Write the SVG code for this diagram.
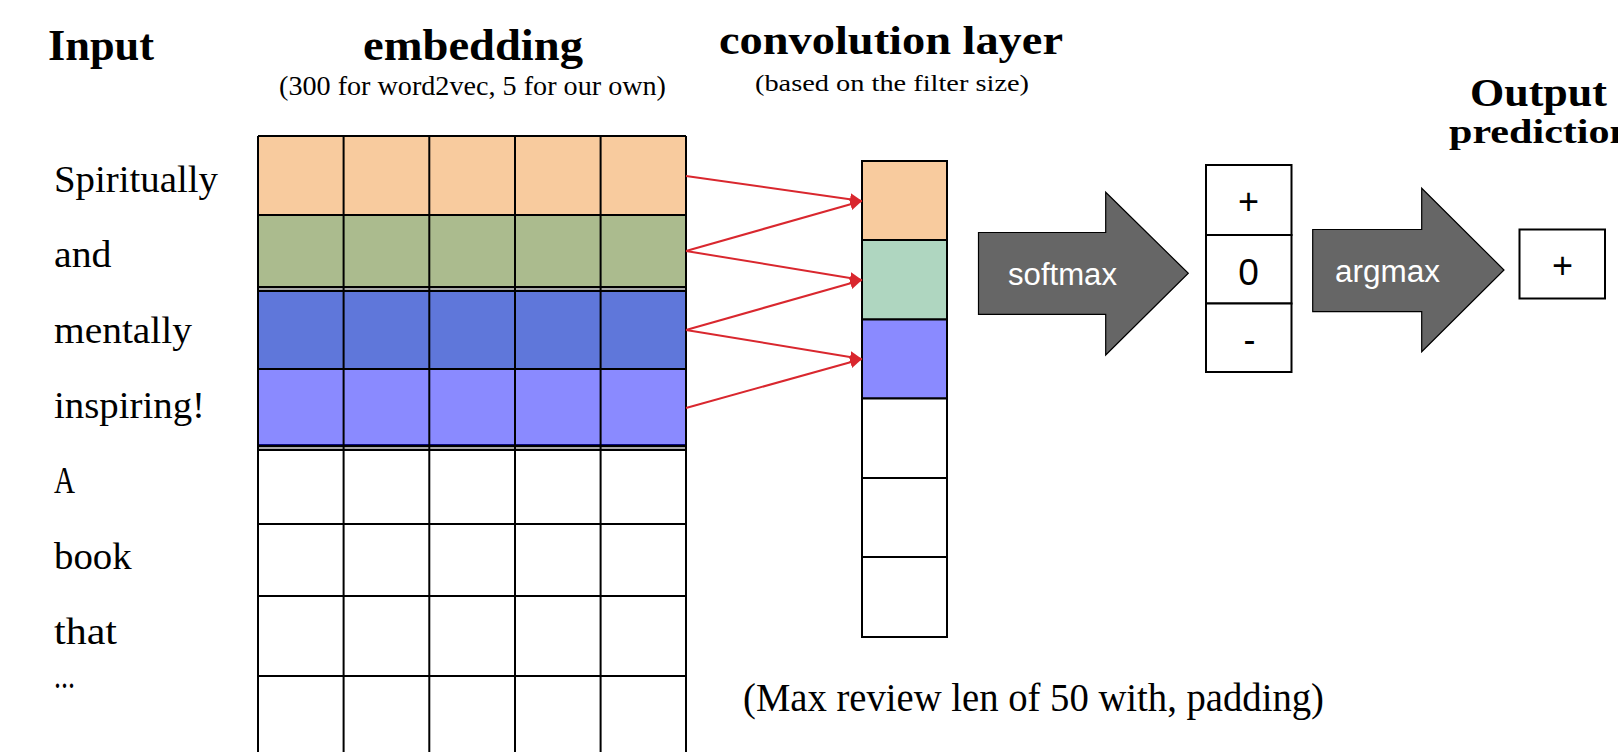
<svg xmlns="http://www.w3.org/2000/svg" width="1618" height="752" viewBox="0 0 1618 752">
<style>
.h{font-family:"Liberation Serif",serif;font-weight:bold;fill:#000}
.s{font-family:"Liberation Serif",serif;fill:#000}
.w{font-family:"Liberation Serif",serif;fill:#000;font-size:38px}
.a{font-family:"Liberation Sans",Arial,sans-serif;fill:#000}
.cell{stroke:#000;stroke-width:2}
.big{fill:#666;stroke:#000;stroke-width:1.2}
.conn{stroke:#d9272e;stroke-width:2;fill:none}
</style>
<defs>
<marker id="ah" viewBox="0 0 12 12" refX="12" refY="6" markerWidth="12" markerHeight="12" markerUnits="userSpaceOnUse" orient="auto">
<path d="M0,0 L12,6 L0,12 z" fill="#d9272e"/>
</marker>
</defs>
<rect width="1618" height="752" fill="#fff"/>

<g id="headings">
<text class="h" x="48" y="60" font-size="44" textLength="106" lengthAdjust="spacingAndGlyphs">Input</text>
<text class="h" x="363" y="60" font-size="44" textLength="220" lengthAdjust="spacingAndGlyphs">embedding</text>
<text class="s" x="279" y="95" font-size="27" textLength="387" lengthAdjust="spacingAndGlyphs">(300 for word2vec, 5 for our own)</text>
<text class="h" x="719" y="54" font-size="40" textLength="344" lengthAdjust="spacingAndGlyphs">convolution layer</text>
<text class="s" x="755" y="91" font-size="24" textLength="274" lengthAdjust="spacingAndGlyphs">(based on the filter size)</text>
<text class="h" x="1470" y="106" font-size="40" textLength="137" lengthAdjust="spacingAndGlyphs">Output</text>
<text class="h" x="1449" y="143" font-size="34" textLength="184" lengthAdjust="spacingAndGlyphs">prediction</text>
<text class="s" x="743" y="711" font-size="40" textLength="581" lengthAdjust="spacingAndGlyphs">(Max review len of 50 with, padding)</text>
</g>

<g id="input-words">
<text class="w" x="54" y="192" textLength="164" lengthAdjust="spacingAndGlyphs">Spiritually</text>
<text class="w" x="54" y="266.5" textLength="57.5" lengthAdjust="spacingAndGlyphs">and</text>
<text class="w" x="54" y="343" textLength="138" lengthAdjust="spacingAndGlyphs">mentally</text>
<text class="w" x="54" y="418" textLength="151" lengthAdjust="spacingAndGlyphs">inspiring!</text>
<text class="w" x="54" y="493" textLength="21" lengthAdjust="spacingAndGlyphs">A</text>
<text class="w" x="54" y="568.5" textLength="77.7" lengthAdjust="spacingAndGlyphs">book</text>
<text class="w" x="54" y="644" textLength="63" lengthAdjust="spacingAndGlyphs">that</text>
<text class="w" x="54" y="688" textLength="21" lengthAdjust="spacingAndGlyphs">...</text>
</g>

<g id="embedding-grid">
<rect x="258" y="136" width="428" height="79" fill="#f8cb9e"/>
<rect x="258" y="215" width="428" height="72" fill="#abbb8e"/>
<rect x="258" y="287" width="428" height="4" fill="#a8a8a8"/>
<rect x="258" y="291" width="428" height="77" fill="#5f77da"/>
<rect x="258" y="368" width="428" height="2" fill="#1a2a9a"/>
<rect x="258" y="370" width="428" height="75" fill="#8a8aff"/>
<rect x="258" y="444" width="428" height="2" fill="#0a0a80"/>
<rect x="258" y="446" width="428" height="4" fill="#a8a8a8"/>
<g class="cell" fill="none">
<path d="M258,136 H686 M258,215 H686 M258,287 H686 M258,291 H686 M258,369 H686 M258,446 H686 M258,450 H686 M258,524 H686 M258,596 H686 M258,676 H686"/>
<path d="M258,136 V752 M343.6,136 V752 M429.3,136 V752 M515,136 V752 M600.6,136 V752 M686,136 V752"/>
</g>
</g>

<g id="conv-layer">
<rect class="cell" x="862" y="161" width="85" height="79" fill="#f8cb9e"/>
<rect class="cell" x="862" y="240" width="85" height="79.5" fill="#afd6c0"/>
<rect class="cell" x="862" y="319.5" width="85" height="79" fill="#8a8aff"/>
<rect class="cell" x="862" y="398.5" width="85" height="79.5" fill="#fff"/>
<rect class="cell" x="862" y="478" width="85" height="79" fill="#fff"/>
<rect class="cell" x="862" y="557" width="85" height="80" fill="#fff"/>
</g>

<g id="connectors">
<line class="conn" x1="686" y1="176" x2="862" y2="201" marker-end="url(#ah)"/>
<line class="conn" x1="686" y1="251" x2="862" y2="201" marker-end="url(#ah)"/>
<line class="conn" x1="686" y1="251" x2="862" y2="280" marker-end="url(#ah)"/>
<line class="conn" x1="686" y1="330" x2="862" y2="280" marker-end="url(#ah)"/>
<line class="conn" x1="686" y1="330" x2="862" y2="359" marker-end="url(#ah)"/>
<line class="conn" x1="686" y1="408" x2="862" y2="359" marker-end="url(#ah)"/>
</g>

<g id="softmax-arrow">
<path class="big" d="M978.5,232.5 H1105.7 V192.3 L1188.3,273.3 L1105.7,355 V314.3 H978.5 Z"/>
<text class="a" x="1008" y="285" font-size="31" style="fill:#fff" textLength="109" lengthAdjust="spacingAndGlyphs">softmax</text>
</g>

<g id="probabilities">
<rect class="cell" x="1206" y="165" width="85.5" height="70" fill="#fff"/>
<rect class="cell" x="1206" y="235" width="85.5" height="68.5" fill="#fff"/>
<rect class="cell" x="1206" y="303.5" width="85.5" height="68.5" fill="#fff"/>
<text class="a" x="1248.5" y="214" font-size="36" text-anchor="middle">+</text>
<text class="a" x="1248.5" y="285" font-size="37" text-anchor="middle">0</text>
<text class="a" x="1249.5" y="352" font-size="36" text-anchor="middle">-</text>
</g>

<g id="argmax-arrow">
<path class="big" d="M1312.7,229.5 H1421.7 V188.3 L1504,270 L1421.7,351.7 V311.7 H1312.7 Z"/>
<text class="a" x="1335" y="282" font-size="31" style="fill:#fff" textLength="105" lengthAdjust="spacingAndGlyphs">argmax</text>
</g>

<g id="output">
<rect class="cell" x="1519.5" y="229.5" width="85.5" height="69" fill="#fff"/>
<text class="a" x="1562.5" y="278" font-size="36" text-anchor="middle">+</text>
</g>
</svg>
